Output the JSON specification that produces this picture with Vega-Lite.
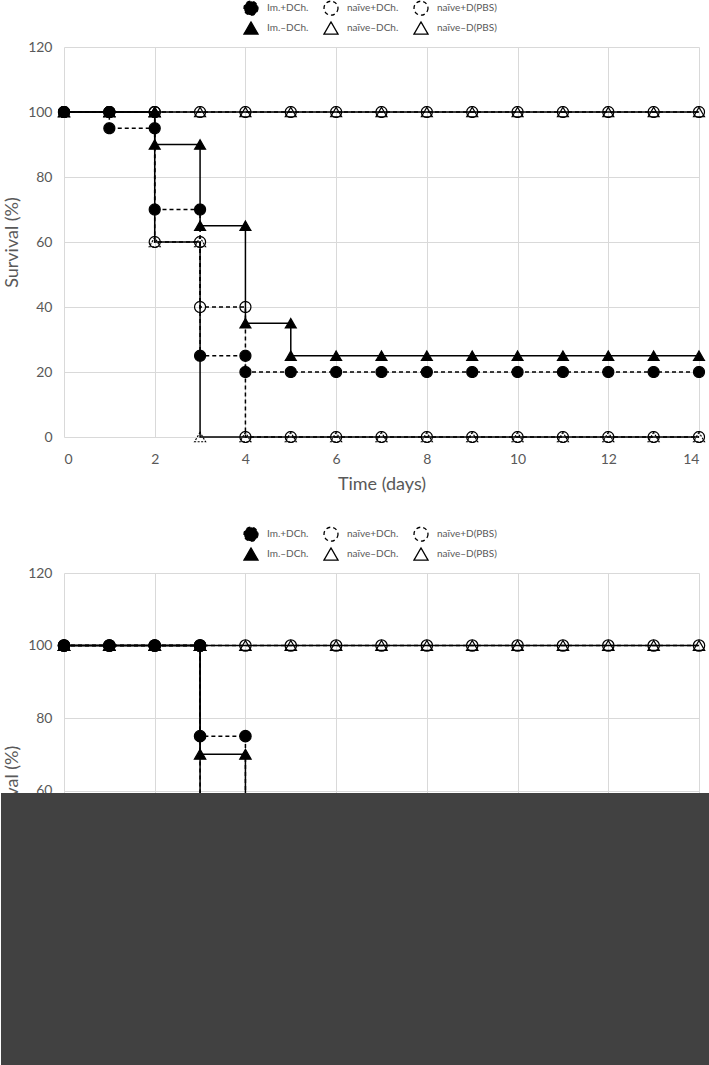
{
  "$schema": "https://vega.github.io/schema/vega-lite/v6.json",
  "padding": 0,
  "background": "white",
  "spacing": 33,
  "config": {
    "font": "Lato",
    "view": {"stroke": null},
    "axis": {
      "labelFont": "Lato", "titleFont": "Lato",
      "labelColor": "#595959", "titleColor": "#595959",
      "labelFontSize": 14, "titleFontSize": 18, "titleFontWeight": "normal",
      "gridColor": "#d9d9d9", "gridWidth": 1, "domain": false, "ticks": false,
      "labelPadding": 12
    },
    "legend": {
      "labelFont": "Lato", "labelFontSize": 10, "labelColor": "#595959",
      "symbolSize": 196, "rowPadding": 1, "columnPadding": 12, "labelOffset": 8,
      "symbolStrokeWidth": 1.3, "labelLimit": 200, "padding": 0
    }
  },
  "datasets": {
    "top": [
      {"series":"Im.+DCh.","i":0,"day":0,"surv":100},
      {"series":"Im.+DCh.","i":1,"day":1,"surv":100},
      {"series":"Im.+DCh.","i":2,"day":1,"surv":95},
      {"series":"Im.+DCh.","i":3,"day":2,"surv":95},
      {"series":"Im.+DCh.","i":4,"day":2,"surv":70},
      {"series":"Im.+DCh.","i":5,"day":3,"surv":70},
      {"series":"Im.+DCh.","i":6,"day":3,"surv":25},
      {"series":"Im.+DCh.","i":7,"day":4,"surv":25},
      {"series":"Im.+DCh.","i":8,"day":4,"surv":20},
      {"series":"Im.+DCh.","i":9,"day":5,"surv":20},
      {"series":"Im.+DCh.","i":10,"day":6,"surv":20},
      {"series":"Im.+DCh.","i":11,"day":7,"surv":20},
      {"series":"Im.+DCh.","i":12,"day":8,"surv":20},
      {"series":"Im.+DCh.","i":13,"day":9,"surv":20},
      {"series":"Im.+DCh.","i":14,"day":10,"surv":20},
      {"series":"Im.+DCh.","i":15,"day":11,"surv":20},
      {"series":"Im.+DCh.","i":16,"day":12,"surv":20},
      {"series":"Im.+DCh.","i":17,"day":13,"surv":20},
      {"series":"Im.+DCh.","i":18,"day":14,"surv":20},
      {"series":"naïve+DCh.","i":0,"day":0,"surv":100},
      {"series":"naïve+DCh.","i":1,"day":1,"surv":100},
      {"series":"naïve+DCh.","i":2,"day":2,"surv":100},
      {"series":"naïve+DCh.","i":3,"day":2,"surv":60},
      {"series":"naïve+DCh.","i":4,"day":3,"surv":60},
      {"series":"naïve+DCh.","i":5,"day":3,"surv":40},
      {"series":"naïve+DCh.","i":6,"day":4,"surv":40},
      {"series":"naïve+DCh.","i":7,"day":4,"surv":0},
      {"series":"naïve+DCh.","i":8,"day":5,"surv":0},
      {"series":"naïve+DCh.","i":9,"day":6,"surv":0},
      {"series":"naïve+DCh.","i":10,"day":7,"surv":0},
      {"series":"naïve+DCh.","i":11,"day":8,"surv":0},
      {"series":"naïve+DCh.","i":12,"day":9,"surv":0},
      {"series":"naïve+DCh.","i":13,"day":10,"surv":0},
      {"series":"naïve+DCh.","i":14,"day":11,"surv":0},
      {"series":"naïve+DCh.","i":15,"day":12,"surv":0},
      {"series":"naïve+DCh.","i":16,"day":13,"surv":0},
      {"series":"naïve+DCh.","i":17,"day":14,"surv":0},
      {"series":"naïve+D(PBS)","i":0,"day":0,"surv":100},
      {"series":"naïve+D(PBS)","i":1,"day":1,"surv":100},
      {"series":"naïve+D(PBS)","i":2,"day":2,"surv":100},
      {"series":"naïve+D(PBS)","i":3,"day":3,"surv":100},
      {"series":"naïve+D(PBS)","i":4,"day":4,"surv":100},
      {"series":"naïve+D(PBS)","i":5,"day":5,"surv":100},
      {"series":"naïve+D(PBS)","i":6,"day":6,"surv":100},
      {"series":"naïve+D(PBS)","i":7,"day":7,"surv":100},
      {"series":"naïve+D(PBS)","i":8,"day":8,"surv":100},
      {"series":"naïve+D(PBS)","i":9,"day":9,"surv":100},
      {"series":"naïve+D(PBS)","i":10,"day":10,"surv":100},
      {"series":"naïve+D(PBS)","i":11,"day":11,"surv":100},
      {"series":"naïve+D(PBS)","i":12,"day":12,"surv":100},
      {"series":"naïve+D(PBS)","i":13,"day":13,"surv":100},
      {"series":"naïve+D(PBS)","i":14,"day":14,"surv":100},
      {"series":"Im.–DCh.","i":0,"day":0,"surv":100},
      {"series":"Im.–DCh.","i":1,"day":1,"surv":100},
      {"series":"Im.–DCh.","i":2,"day":2,"surv":100},
      {"series":"Im.–DCh.","i":3,"day":2,"surv":90},
      {"series":"Im.–DCh.","i":4,"day":3,"surv":90},
      {"series":"Im.–DCh.","i":5,"day":3,"surv":65},
      {"series":"Im.–DCh.","i":6,"day":4,"surv":65},
      {"series":"Im.–DCh.","i":7,"day":4,"surv":35},
      {"series":"Im.–DCh.","i":8,"day":5,"surv":35},
      {"series":"Im.–DCh.","i":9,"day":5,"surv":25},
      {"series":"Im.–DCh.","i":10,"day":6,"surv":25},
      {"series":"Im.–DCh.","i":11,"day":7,"surv":25},
      {"series":"Im.–DCh.","i":12,"day":8,"surv":25},
      {"series":"Im.–DCh.","i":13,"day":9,"surv":25},
      {"series":"Im.–DCh.","i":14,"day":10,"surv":25},
      {"series":"Im.–DCh.","i":15,"day":11,"surv":25},
      {"series":"Im.–DCh.","i":16,"day":12,"surv":25},
      {"series":"Im.–DCh.","i":17,"day":13,"surv":25},
      {"series":"Im.–DCh.","i":18,"day":14,"surv":25},
      {"series":"naïve–DCh.","i":0,"day":0,"surv":100},
      {"series":"naïve–DCh.","i":1,"day":1,"surv":100},
      {"series":"naïve–DCh.","i":2,"day":2,"surv":100},
      {"series":"naïve–DCh.","i":3,"day":2,"surv":60},
      {"series":"naïve–DCh.","i":4,"day":3,"surv":60},
      {"series":"naïve–DCh.","i":5,"day":3,"surv":0},
      {"series":"naïve–DCh.","i":6,"day":4,"surv":0},
      {"series":"naïve–DCh.","i":7,"day":5,"surv":0},
      {"series":"naïve–DCh.","i":8,"day":6,"surv":0},
      {"series":"naïve–DCh.","i":9,"day":7,"surv":0},
      {"series":"naïve–DCh.","i":10,"day":8,"surv":0},
      {"series":"naïve–DCh.","i":11,"day":9,"surv":0},
      {"series":"naïve–DCh.","i":12,"day":10,"surv":0},
      {"series":"naïve–DCh.","i":13,"day":11,"surv":0},
      {"series":"naïve–DCh.","i":14,"day":12,"surv":0},
      {"series":"naïve–DCh.","i":15,"day":13,"surv":0},
      {"series":"naïve–DCh.","i":16,"day":14,"surv":0},
      {"series":"naïve–D(PBS)","i":0,"day":0,"surv":100},
      {"series":"naïve–D(PBS)","i":1,"day":1,"surv":100},
      {"series":"naïve–D(PBS)","i":2,"day":2,"surv":100},
      {"series":"naïve–D(PBS)","i":3,"day":3,"surv":100},
      {"series":"naïve–D(PBS)","i":4,"day":4,"surv":100},
      {"series":"naïve–D(PBS)","i":5,"day":5,"surv":100},
      {"series":"naïve–D(PBS)","i":6,"day":6,"surv":100},
      {"series":"naïve–D(PBS)","i":7,"day":7,"surv":100},
      {"series":"naïve–D(PBS)","i":8,"day":8,"surv":100},
      {"series":"naïve–D(PBS)","i":9,"day":9,"surv":100},
      {"series":"naïve–D(PBS)","i":10,"day":10,"surv":100},
      {"series":"naïve–D(PBS)","i":11,"day":11,"surv":100},
      {"series":"naïve–D(PBS)","i":12,"day":12,"surv":100},
      {"series":"naïve–D(PBS)","i":13,"day":13,"surv":100},
      {"series":"naïve–D(PBS)","i":14,"day":14,"surv":100}
    ],
    "bottom": [
      {"series":"Im.+DCh.","i":0,"day":0,"surv":100},
      {"series":"Im.+DCh.","i":1,"day":1,"surv":100},
      {"series":"Im.+DCh.","i":2,"day":2,"surv":100},
      {"series":"Im.+DCh.","i":3,"day":3,"surv":100},
      {"series":"Im.+DCh.","i":4,"day":3,"surv":75},
      {"series":"Im.+DCh.","i":5,"day":4,"surv":75},
      {"series":"Im.+DCh.","i":6,"day":4,"surv":25},
      {"series":"Im.+DCh.","i":7,"day":5,"surv":25},
      {"series":"Im.+DCh.","i":8,"day":6,"surv":25},
      {"series":"Im.+DCh.","i":9,"day":7,"surv":25},
      {"series":"Im.+DCh.","i":10,"day":8,"surv":25},
      {"series":"Im.+DCh.","i":11,"day":9,"surv":25},
      {"series":"Im.+DCh.","i":12,"day":10,"surv":25},
      {"series":"Im.+DCh.","i":13,"day":11,"surv":25},
      {"series":"Im.+DCh.","i":14,"day":12,"surv":25},
      {"series":"Im.+DCh.","i":15,"day":13,"surv":25},
      {"series":"Im.+DCh.","i":16,"day":14,"surv":25},
      {"series":"naïve+DCh.","i":0,"day":0,"surv":100},
      {"series":"naïve+DCh.","i":1,"day":1,"surv":100},
      {"series":"naïve+DCh.","i":2,"day":2,"surv":100},
      {"series":"naïve+DCh.","i":3,"day":3,"surv":100},
      {"series":"naïve+DCh.","i":4,"day":3,"surv":0},
      {"series":"naïve+DCh.","i":5,"day":4,"surv":0},
      {"series":"naïve+DCh.","i":6,"day":5,"surv":0},
      {"series":"naïve+DCh.","i":7,"day":6,"surv":0},
      {"series":"naïve+DCh.","i":8,"day":7,"surv":0},
      {"series":"naïve+DCh.","i":9,"day":8,"surv":0},
      {"series":"naïve+DCh.","i":10,"day":9,"surv":0},
      {"series":"naïve+DCh.","i":11,"day":10,"surv":0},
      {"series":"naïve+DCh.","i":12,"day":11,"surv":0},
      {"series":"naïve+DCh.","i":13,"day":12,"surv":0},
      {"series":"naïve+DCh.","i":14,"day":13,"surv":0},
      {"series":"naïve+DCh.","i":15,"day":14,"surv":0},
      {"series":"naïve+D(PBS)","i":0,"day":0,"surv":100},
      {"series":"naïve+D(PBS)","i":1,"day":1,"surv":100},
      {"series":"naïve+D(PBS)","i":2,"day":2,"surv":100},
      {"series":"naïve+D(PBS)","i":3,"day":3,"surv":100},
      {"series":"naïve+D(PBS)","i":4,"day":4,"surv":100},
      {"series":"naïve+D(PBS)","i":5,"day":5,"surv":100},
      {"series":"naïve+D(PBS)","i":6,"day":6,"surv":100},
      {"series":"naïve+D(PBS)","i":7,"day":7,"surv":100},
      {"series":"naïve+D(PBS)","i":8,"day":8,"surv":100},
      {"series":"naïve+D(PBS)","i":9,"day":9,"surv":100},
      {"series":"naïve+D(PBS)","i":10,"day":10,"surv":100},
      {"series":"naïve+D(PBS)","i":11,"day":11,"surv":100},
      {"series":"naïve+D(PBS)","i":12,"day":12,"surv":100},
      {"series":"naïve+D(PBS)","i":13,"day":13,"surv":100},
      {"series":"naïve+D(PBS)","i":14,"day":14,"surv":100},
      {"series":"Im.–DCh.","i":0,"day":0,"surv":100},
      {"series":"Im.–DCh.","i":1,"day":1,"surv":100},
      {"series":"Im.–DCh.","i":2,"day":2,"surv":100},
      {"series":"Im.–DCh.","i":3,"day":3,"surv":100},
      {"series":"Im.–DCh.","i":4,"day":3,"surv":70},
      {"series":"Im.–DCh.","i":5,"day":4,"surv":70},
      {"series":"Im.–DCh.","i":6,"day":4,"surv":30},
      {"series":"Im.–DCh.","i":7,"day":5,"surv":30},
      {"series":"Im.–DCh.","i":8,"day":6,"surv":30},
      {"series":"Im.–DCh.","i":9,"day":7,"surv":30},
      {"series":"Im.–DCh.","i":10,"day":8,"surv":30},
      {"series":"Im.–DCh.","i":11,"day":9,"surv":30},
      {"series":"Im.–DCh.","i":12,"day":10,"surv":30},
      {"series":"Im.–DCh.","i":13,"day":11,"surv":30},
      {"series":"Im.–DCh.","i":14,"day":12,"surv":30},
      {"series":"Im.–DCh.","i":15,"day":13,"surv":30},
      {"series":"Im.–DCh.","i":16,"day":14,"surv":30},
      {"series":"naïve–DCh.","i":0,"day":0,"surv":100},
      {"series":"naïve–DCh.","i":1,"day":1,"surv":100},
      {"series":"naïve–DCh.","i":2,"day":2,"surv":100},
      {"series":"naïve–DCh.","i":3,"day":3,"surv":100},
      {"series":"naïve–DCh.","i":4,"day":3,"surv":0},
      {"series":"naïve–DCh.","i":5,"day":4,"surv":0},
      {"series":"naïve–DCh.","i":6,"day":5,"surv":0},
      {"series":"naïve–DCh.","i":7,"day":6,"surv":0},
      {"series":"naïve–DCh.","i":8,"day":7,"surv":0},
      {"series":"naïve–DCh.","i":9,"day":8,"surv":0},
      {"series":"naïve–DCh.","i":10,"day":9,"surv":0},
      {"series":"naïve–DCh.","i":11,"day":10,"surv":0},
      {"series":"naïve–DCh.","i":12,"day":11,"surv":0},
      {"series":"naïve–DCh.","i":13,"day":12,"surv":0},
      {"series":"naïve–DCh.","i":14,"day":13,"surv":0},
      {"series":"naïve–DCh.","i":15,"day":14,"surv":0},
      {"series":"naïve–D(PBS)","i":0,"day":0,"surv":100},
      {"series":"naïve–D(PBS)","i":1,"day":1,"surv":100},
      {"series":"naïve–D(PBS)","i":2,"day":2,"surv":100},
      {"series":"naïve–D(PBS)","i":3,"day":3,"surv":100},
      {"series":"naïve–D(PBS)","i":4,"day":4,"surv":100},
      {"series":"naïve–D(PBS)","i":5,"day":5,"surv":100},
      {"series":"naïve–D(PBS)","i":6,"day":6,"surv":100},
      {"series":"naïve–D(PBS)","i":7,"day":7,"surv":100},
      {"series":"naïve–D(PBS)","i":8,"day":8,"surv":100},
      {"series":"naïve–D(PBS)","i":9,"day":9,"surv":100},
      {"series":"naïve–D(PBS)","i":10,"day":10,"surv":100},
      {"series":"naïve–D(PBS)","i":11,"day":11,"surv":100},
      {"series":"naïve–D(PBS)","i":12,"day":12,"surv":100},
      {"series":"naïve–D(PBS)","i":13,"day":13,"surv":100},
      {"series":"naïve–D(PBS)","i":14,"day":14,"surv":100}
    ]
  },
  "resolve": {
    "scale": {"shape": "independent", "fill": "independent", "strokeDash": "independent"},
    "legend": {"shape": "independent", "fill": "independent", "strokeDash": "independent"}
  },
  "vconcat": [
    {
      "width": 635,
      "height": 390,
      "data": {"name": "top"},
      "layer": [
        {
          "mark": {"type": "line", "stroke": "black", "strokeWidth": 1.5},
          "encoding": {
            "x": {"field": "day", "type": "quantitative",
                  "scale": {"domain": [0, 14], "nice": false, "zero": false},
                  "axis": {"title": "Time (days)", "values": [0,2,4,6,8,10,12,14], "grid": true, "labelPadding": 15, "titlePadding": 9}},
            "y": {"field": "surv", "type": "quantitative",
                  "scale": {"domain": [0, 120], "nice": false},
                  "axis": {"title": "Survival (%)", "values": [0,20,40,60,80,100,120], "grid": true, "titlePadding": 6}},
            "strokeDash": {"field": "series", "type": "nominal",
              "scale": {"domain": ["Im.+DCh.","naïve+DCh.","naïve+D(PBS)","Im.–DCh.","naïve–DCh.","naïve–D(PBS)"],
                        "range": [[4,3],[4,3],[4,3],[1,0],[1,0],[1,0]]}},
            "order": {"field": "i", "type": "quantitative"}
          }
        },
        {
          "mark": {"type": "point", "filled": true, "stroke": "black", "strokeWidth": 1.2, "size": 120, "opacity": 1},
          "encoding": {
            "x": {"field": "day", "type": "quantitative"},
            "y": {"field": "surv", "type": "quantitative"},
            "shape": {"field": "series", "type": "nominal",
              "scale": {"domain": ["Im.+DCh.","naïve+DCh.","naïve+D(PBS)","Im.–DCh.","naïve–DCh.","naïve–D(PBS)"],
                        "range": ["circle","circle","circle","triangle-up","triangle-up","triangle-up"]},
              "legend": {
                "title": null, "orient": "none", "legendX": 179, "legendY": -47, "columns": 3, "direction": "horizontal",
                "encode": {"symbols": {
                  "shape": {"value": {"expr": "indexof(datum.value,'+')>0 ? 'M-1.7,0H-0.5M0.5,0H1.7M0.5,0A0.5,0.5,0,1,1,-0.5,0A0.5,0.5,0,1,1,0.5,0Z' : ((indexof(datum.value,'Im')<0 && indexof(datum.value,'DCh')>0) ? 'M-1.7,0H-0.22M0.22,0H1.7M0,-0.4L0.45,0.4L-0.45,0.4Z' : 'M-1.7,0H-0.3M0.3,0H1.7M0,-0.55L0.6,0.5L-0.6,0.5Z')"}},
                  "fill": {"value": {"expr": "indexof(datum.value,'Im')===0 ? 'black' : 'transparent'"}},
                  "strokeDash": {"value": {"expr": "indexof(datum.value,'+')>0 ? [3,2] : [1,0]"}},
                  "stroke": {"value": "black"},
                  "opacity": {"value": 1}
                }}
              }},
            "fill": {"field": "series", "type": "nominal",
              "scale": {"domain": ["Im.+DCh.","naïve+DCh.","naïve+D(PBS)","Im.–DCh.","naïve–DCh.","naïve–D(PBS)"],
                        "range": ["black","transparent","transparent","black","transparent","transparent"]}},
            "strokeDash": {"condition": {"test": "indexof(datum.series,'Im')<0 && indexof(datum.series,'+')<0 && indexof(datum.series,'DCh')>0", "value": [2,1.5]}, "value": [1,0]}
          }
        }
      ]
    },
    {
      "width": 635,
      "height": 435,
      "data": {"name": "bottom"},
      "layer": [
        {
          "mark": {"type": "line", "stroke": "black", "strokeWidth": 1.5},
          "encoding": {
            "x": {"field": "day", "type": "quantitative",
                  "scale": {"domain": [0, 14], "nice": false, "zero": false},
                  "axis": {"title": "Time (days)", "values": [0,2,4,6,8,10,12,14], "grid": true, "labelPadding": 15, "titlePadding": 9}},
            "y": {"field": "surv", "type": "quantitative",
                  "scale": {"domain": [0, 120], "nice": false},
                  "axis": {"title": "Survival (%)", "values": [0,20,40,60,80,100,120], "grid": true, "titlePadding": 6}},
            "strokeDash": {"field": "series", "type": "nominal",
              "scale": {"domain": ["Im.+DCh.","naïve+DCh.","naïve+D(PBS)","Im.–DCh.","naïve–DCh.","naïve–D(PBS)"],
                        "range": [[4,3],[4,3],[4,3],[1,0],[1,0],[1,0]]}},
            "order": {"field": "i", "type": "quantitative"}
          }
        },
        {
          "mark": {"type": "point", "filled": true, "stroke": "black", "strokeWidth": 1.2, "size": 130, "opacity": 1},
          "encoding": {
            "x": {"field": "day", "type": "quantitative"},
            "y": {"field": "surv", "type": "quantitative"},
            "shape": {"field": "series", "type": "nominal",
              "scale": {"domain": ["Im.+DCh.","naïve+DCh.","naïve+D(PBS)","Im.–DCh.","naïve–DCh.","naïve–D(PBS)"],
                        "range": ["circle","circle","circle","triangle-up","triangle-up","triangle-up"]},
              "legend": {
                "title": null, "orient": "none", "legendX": 179, "legendY": -47, "columns": 3, "direction": "horizontal",
                "encode": {"symbols": {
                  "shape": {"value": {"expr": "indexof(datum.value,'+')>0 ? 'M-1.7,0H-0.5M0.5,0H1.7M0.5,0A0.5,0.5,0,1,1,-0.5,0A0.5,0.5,0,1,1,0.5,0Z' : ((indexof(datum.value,'Im')<0 && indexof(datum.value,'DCh')>0) ? 'M-1.7,0H-0.22M0.22,0H1.7M0,-0.4L0.45,0.4L-0.45,0.4Z' : 'M-1.7,0H-0.3M0.3,0H1.7M0,-0.55L0.6,0.5L-0.6,0.5Z')"}},
                  "fill": {"value": {"expr": "indexof(datum.value,'Im')===0 ? 'black' : 'transparent'"}},
                  "strokeDash": {"value": {"expr": "indexof(datum.value,'+')>0 ? [3,2] : [1,0]"}},
                  "stroke": {"value": "black"},
                  "opacity": {"value": 1}
                }}
              }},
            "fill": {"field": "series", "type": "nominal",
              "scale": {"domain": ["Im.+DCh.","naïve+DCh.","naïve+D(PBS)","Im.–DCh.","naïve–DCh.","naïve–D(PBS)"],
                        "range": ["black","transparent","transparent","black","transparent","transparent"]}}
          }
        },
        {
          "data": {"values": [{}]},
          "mark": {"type": "rect", "color": "#414141"},
          "encoding": {
            "x": {"datum": -1.389},
            "x2": {"datum": 15},
            "y": {"datum": 59.3},
            "y2": {"datum": -30}
          }
        }
      ]
    }
  ]
}
